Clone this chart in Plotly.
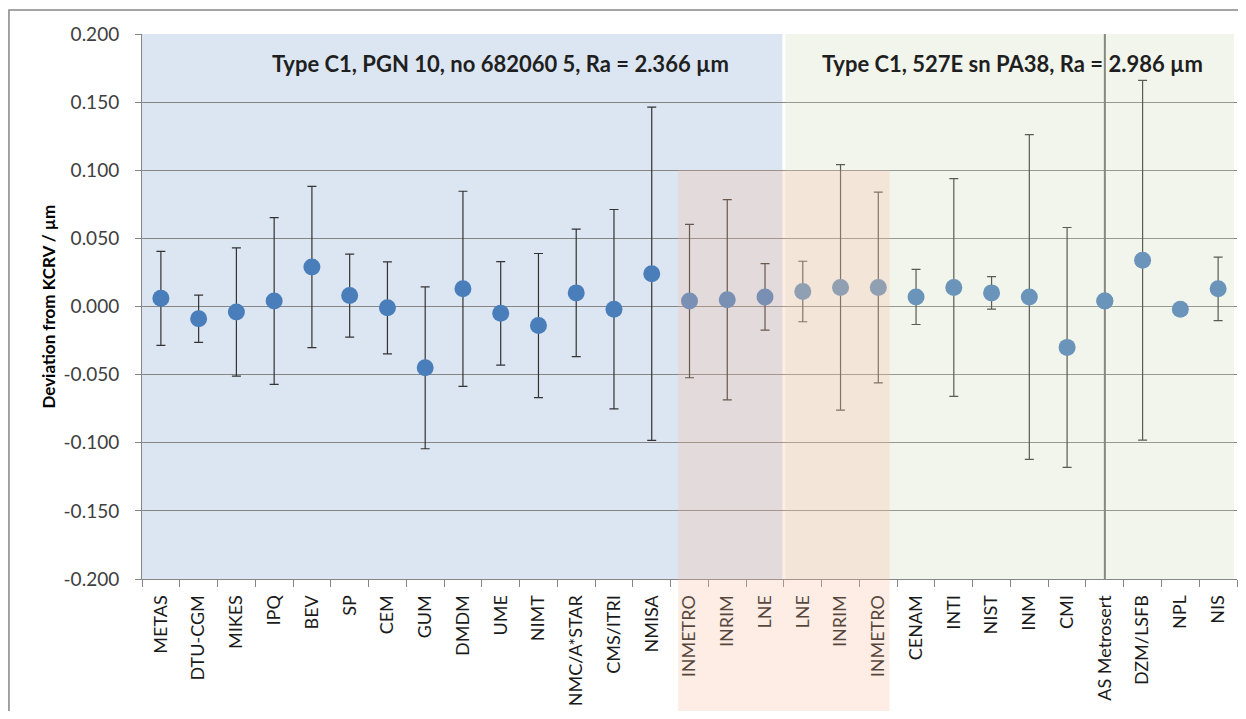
import plotly.graph_objects as go

# ---------------- data ----------------
labs = ["METAS", "DTU-CGM", "MIKES", "IPQ", "BEV", "SP", "CEM", "GUM", "DMDM", "UME",
        "NIMT", "NMC/A*STAR", "CMS/ITRI", "NMISA", "INMETRO", "INRIM", "LNE",
        "LNE", "INRIM", "INMETRO", "CENAM", "INTI", "NIST", "INM", "CMI",
        "AS Metrosert", "DZM/LSFB", "NPL", "NIS"]
deviation = [0.006, -0.009, -0.004, 0.004, 0.029, 0.008, -0.001, -0.045, 0.013, -0.005,
             -0.014, 0.010, -0.002, 0.024, 0.004, 0.005, 0.007,
             0.011, 0.014, 0.014, 0.007, 0.014, 0.010, 0.007, -0.030,
             0.004, 0.034, -0.002, 0.013]
uncertainty = [0.0345, 0.0173, 0.0471, 0.0612, 0.0592, 0.0305, 0.0338, 0.0594, 0.0716, 0.0380,
               0.0529, 0.0468, 0.0732, 0.1223, 0.0563, 0.0735, 0.0244,
               0.0222, 0.0901, 0.0700, 0.0202, 0.0799, 0.0119, 0.1192, 0.0880,
               0.5000, 0.1320, 0.0, 0.0233]
ytick_vals = [0.200, 0.150, 0.100, 0.050, 0.000, -0.050, -0.100, -0.150, -0.200]
ytick_text = ["0.200", "0.150", "0.100", "0.050", "0.000", "-0.050", "-0.100", "-0.150", "-0.200"]
group1_title = "Type C1, PGN 10, no 682060 5, Ra = 2.366 µm"
group2_title = "Type C1, 527E sn PA38, Ra = 2.986 µm"
y_title = "Deviation from KCRV / µm"

# ---------------- figure ----------------
n = len(labs)
xs = list(range(n))
y_lo, y_hi = -0.2, 0.2
onscale = [u <= (y_hi - y_lo) / 2 for u in uncertainty]

FONT = "Lato, 'Open Sans', Arial, sans-serif"
GRID = "#868686"
MARK = "#4A7EBB"

fig = go.Figure()
fig.add_trace(go.Scatter(
    x=xs, y=deviation, mode="markers",
    marker=dict(size=17, color=MARK, line=dict(width=0)),
    error_y=dict(type="data", symmetric=True,
                 array=[u if ok else 0 for u, ok in zip(uncertainty, onscale)],
                 color="#333333", thickness=1.2, width=4.5),
    showlegend=False, hoverinfo="skip"))
off_x = [x for x, ok in zip(xs, onscale) if not ok]
off_y = [d for d, ok in zip(deviation, onscale) if not ok]
off_u = [u for u, ok in zip(uncertainty, onscale) if not ok]
fig.add_trace(go.Scatter(
    x=off_x, y=off_y, mode="markers",
    marker=dict(size=17, color=MARK, line=dict(width=0)),
    error_y=dict(type="data", symmetric=True, array=off_u,
                 color="#6E6E6E", thickness=2, width=0),
    showlegend=False, hoverinfo="skip"))

def xf(idx):
    # category index -> fraction of x axis domain
    return (idx + 0.5) / n

split = labs.index("LNE") + 0.5  # boundary between the two artefacts
shapes = [
    dict(type="rect", xref="x domain", yref="y domain", x0=0, x1=xf(split - 0.04),
         y0=0, y1=1, fillcolor="#DCE6F2", line=dict(width=0), layer="below"),
    dict(type="rect", xref="x domain", yref="y domain", x0=xf(split + 0.04), x1=xf(n - 0.58),
         y0=0, y1=1, fillcolor="rgba(203,215,179,0.25)", line=dict(width=0), layer="above"),
    dict(type="rect", xref="x domain", yref="paper", x0=xf(13.7), x1=xf(19.3),
         y0=-0.26, y1=(0.1 - y_lo) / (y_hi - y_lo),
         fillcolor="rgba(247,190,160,0.27)", line=dict(width=0), layer="above"),
    dict(type="rect", xref="paper", yref="paper", x0=-0.1215, x1=1.0073, y0=-0.4, y1=1.044,
         fillcolor="rgba(0,0,0,0)", line=dict(color=GRID, width=1.5), layer="above"),
]

annotations = [
    dict(text=f"<b>{group1_title}</b>", xref="paper", yref="paper", x=0.327, y=0.946,
         showarrow=False, font=dict(family=FONT, size=22, color="#1F1F1F"),
         xanchor="center", yanchor="middle"),
    dict(text=f"<b>{group2_title}</b>", xref="paper", yref="paper", x=0.7954, y=0.946,
         showarrow=False, font=dict(family=FONT, size=22, color="#1F1F1F"),
         xanchor="center", yanchor="middle"),
    dict(text=f"<b>{y_title}</b>", xref="paper", yref="paper", x=-0.0858, y=0.5,
         textangle=-90, showarrow=False, font=dict(family=FONT, size=17, color="#000000"),
         xanchor="center", yanchor="middle"),
]

fig.update_layout(
    width=1230, height=703,
    margin=dict(l=134, r=1, t=26, b=132, pad=0),
    paper_bgcolor="white", plot_bgcolor="white",
    font=dict(family=FONT, size=18, color="#262626"),
    shapes=shapes, annotations=annotations,
    xaxis=dict(range=[-0.5, n - 0.5], tickmode="array", tickvals=xs, ticktext=labs,
               tickangle=-90, ticks="", showgrid=False, zeroline=False,
               showline=True, linecolor=GRID, linewidth=1,
               ticklabelstandoff=8,
               minor=dict(ticks="outside", tick0=-0.5, dtick=1, ticklen=7,
                          tickcolor=GRID, tickwidth=1, showgrid=False),
               tickfont=dict(family=FONT, size=18, color="#1A1A1A")),
    yaxis=dict(range=[y_lo, y_hi], tickmode="array", tickvals=ytick_vals, ticktext=ytick_text,
               showgrid=True, gridcolor=GRID, gridwidth=1, zeroline=False,
               showline=True, linecolor=GRID, linewidth=1,
               ticks="outside", ticklen=6, tickcolor=GRID,
               ticklabelstandoff=12,
               tickfont=dict(family=FONT, size=19, color="#404040")),
)

fig.write_html("out.html")
